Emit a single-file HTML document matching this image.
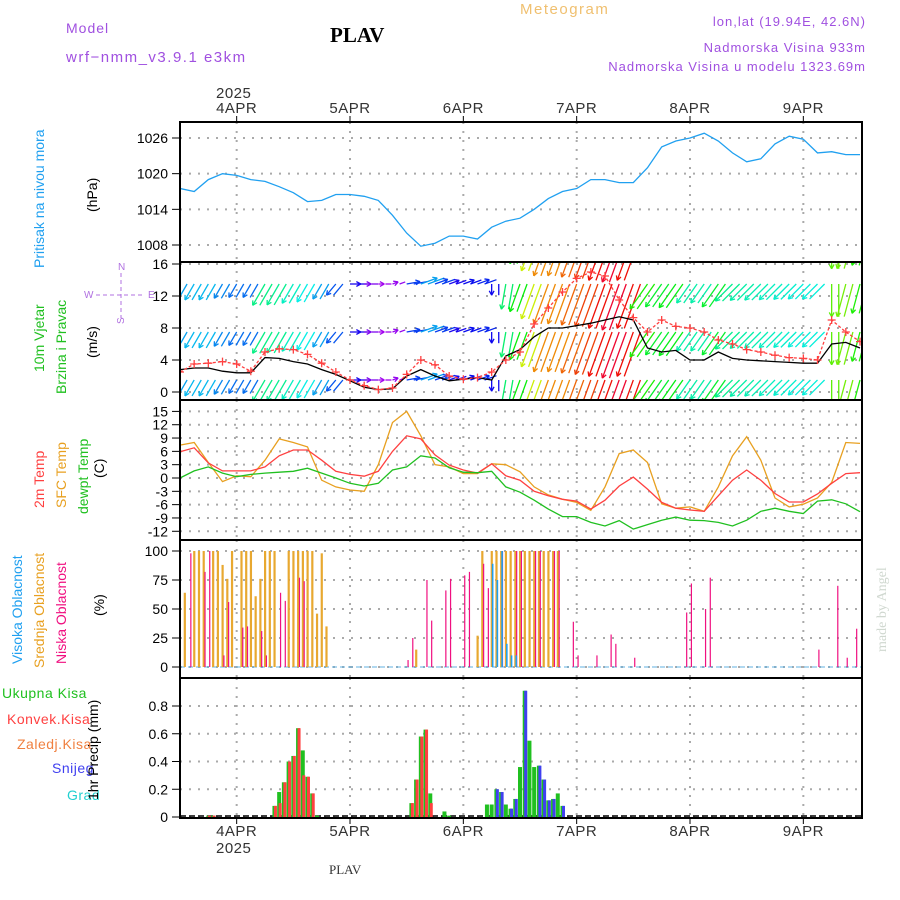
<!DOCTYPE html>
<html><head><meta charset="utf-8"><title>Meteogram PLAV</title>
<style>
html,body{margin:0;padding:0;background:#fff;}
svg{display:block;font-family:"Liberation Sans",sans-serif;}
</style></head>
<body>
<svg id="chart" width="900" height="900" viewBox="0 0 900 900" xmlns="http://www.w3.org/2000/svg">
<defs>
<clipPath id="cw"><rect x="181" y="263" width="680" height="136"/></clipPath>
<clipPath id="cp"><rect x="181" y="123" width="680" height="138"/></clipPath>
</defs>
<g>
<text x="66" y="33" fill="#a050e0" font-size="14" letter-spacing="1">Model</text>
<text x="66" y="62" fill="#a050e0" font-size="15" letter-spacing="1.5">wrf−nmm_v3.9.1 e3km</text>
<text x="330" y="42" fill="#000" font-size="21" font-weight="bold" font-family="Liberation Serif,serif">PLAV</text>
<text x="520" y="14" fill="#f0c070" font-size="15" letter-spacing="1.5">Meteogram</text>
<text x="866" y="26" fill="#a050e0" font-size="13" letter-spacing="1" text-anchor="end">lon,lat (19.94E, 42.6N)</text>
<text x="866" y="52" fill="#a050e0" font-size="13" letter-spacing="1" text-anchor="end">Nadmorska Visina 933m</text>
<text x="866" y="71" fill="#a050e0" font-size="13" letter-spacing="1" text-anchor="end">Nadmorska Visina u modelu 1323.69m</text>
<text x="216" y="98" fill="#333" font-size="15" letter-spacing="0.5">2025</text>
<text x="216" y="853" fill="#333" font-size="15" letter-spacing="0.5">2025</text>
<text x="329" y="874" fill="#333" font-size="13" font-family="Liberation Serif,serif">PLAV</text>
<text transform="translate(886,652) rotate(-90)" fill="#d0d8d0" font-size="14" font-family="Liberation Serif,serif">made by Angel</text>
</g>
<g>
<text transform="translate(44,268) rotate(-90)" fill="#20a0f0" font-size="14">Pritisak na nivou mora</text>
<text transform="translate(97,212) rotate(-90)" fill="#000" font-size="14">(hPa)</text>
<text transform="translate(44,372) rotate(-90)" fill="#20c020" font-size="14">10m Vjetar</text>
<text transform="translate(66,394) rotate(-90)" fill="#20c020" font-size="14">Brzina i Pravac</text>
<text transform="translate(97,358) rotate(-90)" fill="#000" font-size="14">(m/s)</text>
<g fill="#b070e0" font-size="10" stroke="none">
<text x="118" y="270">N</text><text x="84" y="298">W</text><text x="148" y="298">E</text><text transform="translate(124,324) rotate(-90)">S</text>
<line x1="121" y1="273" x2="121" y2="318" stroke="#b070e0" stroke-dasharray="4,3"/>
<line x1="96" y1="295" x2="145" y2="295" stroke="#b070e0" stroke-dasharray="4,3"/>
</g>
<text transform="translate(44,508) rotate(-90)" fill="#ff4040" font-size="14">2m Temp</text>
<text transform="translate(66,508) rotate(-90)" fill="#e8a020" font-size="14">SFC Temp</text>
<text transform="translate(88,514) rotate(-90)" fill="#20c020" font-size="14">dewpt Temp</text>
<text transform="translate(104,478) rotate(-90)" fill="#000" font-size="14">(C)</text>
<text transform="translate(22,664) rotate(-90)" fill="#20a0f0" font-size="14">Visoka Oblacnost</text>
<text transform="translate(44,668) rotate(-90)" fill="#e8a020" font-size="14">Srednja Oblacnost</text>
<text transform="translate(66,664) rotate(-90)" fill="#f01080" font-size="14">Niska Oblacnost</text>
<text transform="translate(104,616) rotate(-90)" fill="#000" font-size="14">(%)</text>
<text x="2" y="698" fill="#20c020" font-size="14" letter-spacing="0.5">Ukupna Kisa</text>
<text x="7" y="724" fill="#ff4040" font-size="14" letter-spacing="0.5">Konvek.Kisa</text>
<text x="17" y="749" fill="#f08040" font-size="14" letter-spacing="0.5">Zaledj.Kisa</text>
<text x="52" y="773" fill="#4040f0" font-size="14" letter-spacing="0.5">Snijeg</text>
<text x="67" y="800" fill="#20d0d0" font-size="14" letter-spacing="0.5">Grad</text>
<text transform="translate(98,800) rotate(-90)" fill="#000" font-size="14">1hr Precip (mm)</text>
</g>
<g id="plots"></g>
</svg>
<script>
// ---------- data (3-hourly from 3APR 12UTC to 9APR 12UTC) ----------
const dayLabels = ['4APR','5APR','6APR','7APR','8APR','9APR'];
const dayHours = [12,36,60,84,108,132];
const pressure = [1017.5,1017.0,1019.0,1020.0,1019.7,1019.0,1018.7,1017.8,1016.8,1015.3,1015.5,1016.5,1016.5,1016.2,1015.5,1013.0,1010.0,1007.8,1008.3,1009.5,1009.5,1009.0,1011.0,1012.0,1012.5,1014.0,1015.8,1017.0,1017.5,1019.0,1019.0,1018.5,1018.5,1021.0,1024.5,1025.5,1026.0,1026.8,1025.5,1023.5,1022.0,1022.5,1025.0,1026.3,1025.8,1023.5,1023.7,1023.2,1023.2];
const pressureTicks = [1008,1014,1020,1026];
const windSpeed = [2.8,3.0,3.0,2.6,2.4,2.4,4.3,4.2,3.8,3.5,2.8,2.2,1.4,0.6,0.3,0.4,2.0,2.8,2.0,1.4,1.6,1.8,1.5,4.5,5.3,6.9,8.0,8.0,8.3,8.6,9.0,9.4,9.0,5.5,5.0,5.2,4.0,4.0,5.0,4.2,4.0,3.9,3.8,3.7,3.6,3.6,6.0,6.2,5.5];
const windGust = [2.5,3.5,3.6,3.8,3.5,2.6,5.0,5.4,5.3,4.7,3.6,2.5,1.5,0.8,0.3,0.5,2.2,4.0,3.4,2.0,1.6,1.8,2.5,4.0,5.0,8.5,10.5,12.5,14.2,15.0,14.5,11.5,9.3,7.5,9.0,8.2,8.0,7.5,6.5,6.0,5.3,5.0,4.6,4.3,4.2,4.0,9.0,7.5,6.3];
const windDir = [30,30,30,30,30,30,30,30,30,30,30,40,270,270,270,250,260,250,250,250,250,250,0,10,20,20,20,20,20,20,20,20,20,35,35,35,35,35,35,45,45,45,45,45,45,45,0,15,15];
const windTicks = [0,4,8,12,16];
const temp2m = [5.9,6.8,3.4,1.6,1.6,1.6,2.5,5.0,6.3,6.3,4.0,1.5,0.8,0.4,1.5,6.0,9.5,8.8,5.2,2.9,1.8,1.1,3.2,0.5,-0.5,-3.0,-4.0,-4.8,-5.2,-7.0,-5.0,-1.8,0.2,-2.5,-5.5,-6.8,-7.2,-7.5,-4.0,-0.5,1.8,-0.5,-3.5,-5.4,-5.4,-3.6,-1.2,1.0,1.2];
const tempSfc = [7.4,8.0,3.5,-0.8,0.5,0.3,4.0,8.8,8.0,7.0,-0.5,-2.0,-2.7,-3.0,3.0,12.5,15.0,9.5,3.0,2.5,1.0,1.0,3.2,3.0,1.4,-2.0,-3.8,-4.8,-5.5,-7.3,-2.0,5.5,6.3,3.5,-5.8,-6.8,-6.5,-7.5,-2.0,5.0,9.3,4.0,-4.5,-6.5,-5.9,-4.5,-1.0,8.0,7.8];
const dewpoint = [0,1.6,2.5,1.1,0.3,0.8,1.1,1.3,1.5,2.2,1.1,0.0,-1.2,-1.8,-1.2,1.8,2.5,5.0,4.5,2.3,1.3,1.2,1.5,-2.0,-3.2,-5.0,-7.0,-8.7,-8.7,-10.0,-10.8,-9.6,-11.5,-10.5,-9.5,-8.8,-9.5,-9.6,-10.0,-10.8,-9.5,-7.5,-6.8,-7.5,-8.0,-5.2,-4.9,-5.8,-7.6];
const tempTicks = [-12,-9,-6,-3,0,3,6,9,12,15];
// ---------- hourly sparse data ----------
const midHours = [1,3,4,5,7,8,9,10,11,13,14,15,16,17,18,19,20,23,24,25,26,27,28,29,30,31,50,63,64,66,67,68,69,70,71,72,73,74,75,76,77,78,79,80];
const midValues = [64,100,100,100,100,100,88,76,100,100,100,100,61,76,100,100,100,100,100,100,100,100,100,46,98,35,15,27,100,100,100,100,100,100,100,100,100,100,100,100,100,100,100,100];
const lowHours = [2,5,6,9,10,13,14,17,18,21,22,25,26,48,49,52,53,56,57,60,61,64,65,68,71,72,75,76,79,80,83,84,88,91,92,96,107,108,111,112,135,139,141,143];
const lowValues = [98,82,100,10,56,34,35,31,10,64,57,77,74,6,25,75,40,66,76,79,82,89,68,100,100,100,100,100,100,100,39,10,10,28,20,8,47,72,50,77,15,70,8,33];
const highHours = [66,67,68,69,70,71];
const highValues = [89,75,100,20,10,10];
const cloudTicks = [0,25,50,75,100];
const precipHours = [6,7,20,21,22,23,24,25,26,27,28,29,49,50,51,52,53,56,57,65,66,67,68,69,70,71,72,73,74,75,76,77,78,79,80,81];
const precipTotal = [0.01,0.01,0.08,0.18,0.25,0.40,0.44,0.64,0.48,0.29,0.17,0.01,0.10,0.27,0.58,0.63,0.17,0.04,0.01,0.09,0.09,0.20,0.18,0.09,0.06,0.13,0.36,0.91,0.55,0.36,0.37,0.27,0.12,0.13,0.17,0.08];
const precipConv = [0.01,0.01,0.08,0.10,0.25,0.40,0.44,0.64,0.30,0.29,0.17,0,0.10,0.27,0.58,0.63,0.10,0,0,0,0,0,0,0,0,0,0,0,0,0,0,0,0,0,0,0];
const precipSnow = [0,0,0,0,0,0,0,0,0,0,0,0,0,0,0,0,0,0,0,0,0,0.20,0.18,0,0.06,0.13,0,0.91,0,0,0.37,0.27,0.12,0.13,0,0.08];
const precipTicks = [0,0.2,0.4,0.6,0.8];

// ---------- geometry ----------
const X0 = 180, X1 = 862, PXH = 680/144;
function xh(h){ return X0 + h*PXH; }
function xi(i){ return xh(i*3); }
function yP(v){ return 138 + (1026-v)*5.944; }
function yW(v){ return 392 - v*8; }
function yT(v){ return 478 - v*4.44; }
function yC(v){ return 667 - v*1.16; }
function yR(v){ return 817 - v*138.75; }
const NS='http://www.w3.org/2000/svg';
const root=document.getElementById('plots');
function mk(tag,attrs,parent){const e=document.createElementNS(NS,tag);for(const k in attrs)e.setAttribute(k,attrs[k]);(parent||root).appendChild(e);return e;}
const panels=[{name:'pressure',y0:122,y1:262,ticks:pressureTicks,f:yP,fmt:v=>String(v)},
{name:'wind',y0:262,y1:400,ticks:windTicks,f:yW,fmt:v=>String(v)},
{name:'temp',y0:400,y1:540,ticks:tempTicks,f:yT,fmt:v=>String(v)},
{name:'cloud',y0:540,y1:678,ticks:cloudTicks,f:yC,fmt:v=>String(v)},
{name:'precip',y0:678,y1:818,ticks:precipTicks,f:yR,fmt:v=>v===0?'0':v.toFixed(1)}];
panels.forEach(p=>{
  const g=mk('g',{});
  
  
  dayHours.forEach(h=>{const l=mk('line',{x1:xh(h),x2:xh(h),y1:p.y0,y2:p.y1,stroke:'#aaa','stroke-width':2,'stroke-dasharray':'2,7'},g);
    
    });
  p.ticks.forEach(v=>{const y=p.f(v);
    const gl=mk('line',{x1:X0,x2:X1,y1:y,y2:y,stroke:'#aaa','stroke-width':2,'stroke-dasharray':'2,7'},g);
    
    
    mk('line',{x1:X0-8,x2:X0,y1:y,y2:y,stroke:'#000'},g);
    const t=mk('text',{x:X0-12,y:y+5,'text-anchor':'end','font-size':14,fill:'#000'},g);
    t.textContent=p.fmt(v);
    
    });
});
dayLabels.forEach((d,k)=>{
  const t=mk('text',{x:xh(dayHours[k]),y:113,'text-anchor':'middle','font-size':15,fill:'#333','letter-spacing':'0.5'});
  t.textContent=d;
  
  
  const b=mk('text',{x:xh(dayHours[k]),y:836,'text-anchor':'middle','font-size':15,fill:'#333','letter-spacing':'0.5'});
  b.textContent=d;
  
  
  mk('line',{x1:xh(dayHours[k]),x2:xh(dayHours[k]),y1:818,y2:824,stroke:'#000'});
  mk('line',{x1:xh(dayHours[k]),x2:xh(dayHours[k]),y1:116,y2:122,stroke:'#000'});
});
function poly(arr,f,color,name,clip){
  const pts=arr.map((v,i)=>xi(i).toFixed(1)+','+f(v).toFixed(1)).join(' ');
  const attrs={points:pts,fill:'none',stroke:color,'stroke-width':1.3};
  if(clip)attrs['clip-path']='url(#'+clip+')';
  const e=mk('polyline',attrs);
  
  
  return e;
}
poly(pressure,yP,'#20a0f0','pressure-line','cp');
// wind arrows
function hueFor(s){let h=290-32*s;if(h<0)h+=360;return 'hsl('+h+',95%,48%)';}
const wg=mk('g',{'clip-path':'url(#cw)'});


[19.5,13.5,7.5,1.5].forEach(base=>{
  windSpeed.forEach((s,i)=>{
    const to=(windDir[i]+180)*Math.PI/180, len=Math.max(6,4.8*s+4);
    const x1=xi(i), y1=yW(base), x2=x1+Math.sin(to)*len, y2=y1-Math.cos(to)*len;
    const c=hueFor(s);
    const a=mk('line',{x1:x1,y1:y1,x2:x2,y2:y2,stroke:c,'stroke-width':1.3},wg);
    
    
    const ang=Math.atan2(y2-y1,x2-x1);
    [0.5,-0.5].forEach(d=>{mk('line',{x1:x2,y1:y2,x2:x2-5*Math.cos(ang+d),y2:y2-5*Math.sin(ang+d),stroke:c,'stroke-width':1.3},wg);});
    const xm=x1+PXH*1.5, x2m=xm+Math.sin(to)*len;
    mk('line',{x1:xm,y1:y1,x2:x2m,y2:y2,stroke:c,'stroke-width':1.3},wg);
  });
});
poly(windSpeed,yW,'#000','wind-speed-line','cw');
const gl=poly(windGust,yW,'#ff4040','wind-gust-line','cw');
gl.setAttribute('stroke-dasharray','3,2');
windGust.forEach((v,i)=>{const x=xi(i),y=yW(v);
  const m=mk('path',{d:`M${x-4},${y}H${x+4}M${x},${y-4}V${y+4}`,stroke:'#ff4040','stroke-width':1.3,'clip-path':'url(#cw)'});
  
  });
// temps
poly(tempSfc,yT,'#e8a020','sfc-temp-line');
poly(temp2m,yT,'#ff4040','temp-2m-line');
poly(dewpoint,yT,'#20c020','dewpoint-line');
// clouds
mk('line',{x1:X0,x2:X1,y1:yC(0),y2:yC(0),stroke:'#60b0e0','stroke-width':1,'stroke-dasharray':'5,3'});
function cloudBars(hours,vals,color,name,dx,w){
  hours.forEach((h,k)=>{const x=xh(h)+dx;
    const r=mk('rect',{x:x,y:yC(vals[k]),width:w,height:yC(0)-yC(vals[k]),fill:color});
    
    });
}
cloudBars(midHours,midValues,'#e8a830','mid-cloud-bar',-1,2.2);
cloudBars(lowHours,lowValues,'#f01080','low-cloud-bar',0.8,1.2);
cloudBars(highHours,highValues,'#20a0f0','high-cloud-bar',0.2,1.6);
// precip
mk('line',{x1:X0,x2:X1,y1:yR(0)-1,y2:yR(0)-1,stroke:'#000','stroke-width':1.5,'stroke-dasharray':'6,3'});
precipHours.forEach((h,k)=>{const x=xh(h);
  const t=mk('rect',{x:x-2,y:yR(precipTotal[k]),width:4,height:yR(0)-yR(precipTotal[k]),fill:'#20c020'});
  
  
  if(precipConv[k]>0){const c=mk('rect',{x:x-0.5,y:yR(precipConv[k]),width:3,height:yR(0)-yR(precipConv[k]),fill:'#ff4040'});
    
    }
  if(precipSnow[k]>0){const s=mk('rect',{x:x-0.5,y:yR(precipSnow[k]),width:3,height:yR(0)-yR(precipSnow[k]),fill:'#4040f0'});
    
    }
});
// frames
panels.forEach(p=>{const r=mk('rect',{x:X0,y:p.y0,width:X1-X0,height:p.y1-p.y0,fill:'none',stroke:'#000','stroke-width':2});
  
  });
</script>
</body></html>
